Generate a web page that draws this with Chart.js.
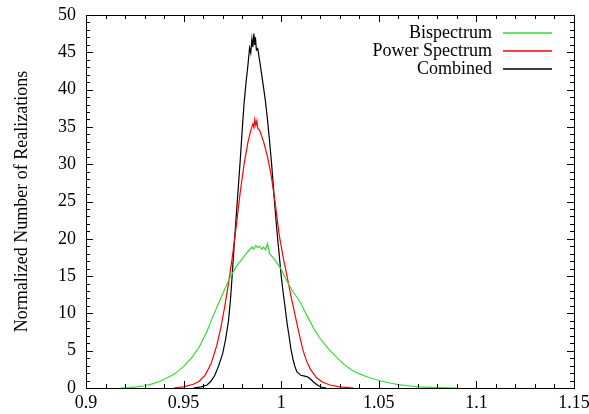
<!DOCTYPE html>
<html>
<head>
<meta charset="utf-8">
<script src="https://cdn.jsdelivr.net/npm/chart.js@4/dist/chart.umd.min.js"></script>
<style>
  html, body { margin: 0; padding: 0; background: #fff; }
  #wrap { width: 589px; height: 414px; }
</style>
</head>
<body>
<div id="wrap"><canvas id="grafico" width="589" height="414"></canvas></div>
<script>
  // Bispectrum (green)
  const bispecX = [0.918, 0.922, 0.926, 0.930, 0.934, 0.938, 0.942, 0.946, 0.950, 0.954, 0.958, 0.962, 0.965, 0.968, 0.971, 0.974, 0.977, 0.980, 0.983, 0.985, 0.986, 0.987, 0.988, 0.989, 0.990, 0.991, 0.992, 0.993, 0.994, 0.996, 0.998, 1.000, 1.002, 1.004, 1.006, 1.008, 1.010, 1.012, 1.014, 1.017, 1.020, 1.024, 1.028, 1.032, 1.036, 1.040, 1.045, 1.050, 1.055, 1.060, 1.065, 1.070, 1.080, 1.090];
  const bispecY = [0, 0.05, 0.15, 0.3, 0.55, 0.9, 1.4, 2.0, 2.9, 4.0, 5.5, 7.6, 9.6, 11.4, 13.2, 14.9, 16.3, 17.3, 18.3, 18.9, 18.6, 19.1, 18.8, 19.0, 18.6, 18.9, 18.5, 19.4, 18.0, 17.4, 16.7, 15.9, 14.8, 13.8, 12.9, 12.2, 11.4, 10.3, 9.3, 7.8, 6.6, 5.3, 4.2, 3.2, 2.4, 1.9, 1.4, 1.0, 0.7, 0.45, 0.3, 0.15, 0.05, 0];

  // Power Spectrum (red)
  const powerX = [0.945, 0.950, 0.955, 0.958, 0.961, 0.964, 0.967, 0.969, 0.971, 0.973, 0.975, 0.977, 0.979, 0.981, 0.983, 0.9845, 0.9855, 0.986, 0.9865, 0.987, 0.9875, 0.988, 0.989, 0.991, 0.993, 0.995, 0.997, 0.999, 1.001, 1.003, 1.005, 1.007, 1.009, 1.011, 1.013, 1.015, 1.018, 1.021, 1.025, 1.030, 1.037];
  const powerY = [0, 0.15, 0.5, 0.9, 1.7, 3.2, 5.7, 8.0, 10.8, 14.0, 17.6, 21.8, 26.2, 30.0, 33.0, 34.6, 35.4, 34.9, 36.0, 35.2, 35.8, 34.8, 34.5, 33.0, 31.0, 28.3, 24.6, 20.5, 17.5, 15.0, 12.3, 9.9, 7.5, 5.2, 3.6, 2.5, 1.4, 0.8, 0.4, 0.15, 0];

  // Combined (black)
  const combX = [0.955, 0.959, 0.962, 0.964, 0.966, 0.968, 0.970, 0.9715, 0.973, 0.974, 0.975, 0.976, 0.977, 0.978, 0.979, 0.980, 0.981, 0.982, 0.983, 0.9838, 0.9844, 0.985, 0.9855, 0.986, 0.9864, 0.9868, 0.9873, 0.988, 0.989, 0.990, 0.991, 0.992, 0.993, 0.994, 0.995, 0.996, 0.997, 0.998, 0.999, 1.000, 1.001, 1.002, 1.003, 1.004, 1.005, 1.006, 1.007, 1.008, 1.010, 1.012, 1.0135, 1.015, 1.017, 1.019, 1.021, 1.023];
  const combY = [0, 0.15, 0.4, 0.9, 1.7, 3.0, 4.6, 6.5, 9.0, 11.8, 15.5, 19.5, 23.2, 26.8, 30.5, 34.5, 38.2, 41.0, 43.4, 45.6, 44.9, 46.8, 45.7, 47.5, 46.0, 47.0, 45.3, 45.5, 43.8, 42.0, 40.2, 38.3, 35.9, 33.2, 30.3, 27.0, 23.6, 20.5, 17.8, 15.0, 12.8, 10.8, 8.7, 7.0, 5.2, 3.9, 2.9, 2.2, 1.7, 1.6, 1.5, 1.2, 0.7, 0.3, 0.1, 0];

  const xTicks = [0.9, 0.95, 1, 1.05, 1.1, 1.15];
  const yTicks = [0, 5, 10, 15, 20, 25, 30, 35, 40, 45, 50];
  const seriesNames = ['Bispectrum', 'Power Spectrum', 'Combined'];
  const seriesColors = ['#33dd33', '#ff0000', '#000000'];

  const FONT = '18px "Liberation Serif", "DejaVu Serif", serif';

  function pts(xs, ys) {
    return xs.map((x, i) => ({ x: x, y: ys[i] }));
  }

  // gnuplot-like frame, inward ticks, labels and legend
  const framePlugin = {
    id: 'frame',
    afterDraw(chart) {
      const c = chart.ctx;
      const a = chart.chartArea;
      const xs = chart.scales.x, ys = chart.scales.y;
      c.save();
      c.strokeStyle = '#000';
      c.lineWidth = 1;
      c.strokeRect(Math.round(a.left) + 0.5, Math.round(a.top) + 0.5,
        Math.round(a.right - a.left), Math.round(a.bottom - a.top));

      c.beginPath();
      // x ticks: minor every 0.01, major every 0.05
      for (let i = 0; i <= 25; i++) {
        const v = 0.9 + i * 0.01;
        const px = Math.round(xs.getPixelForValue(v)) + 0.5;
        const len = i % 5 === 0 ? 7 : 4;
        c.moveTo(px, a.bottom); c.lineTo(px, a.bottom - len);
        c.moveTo(px, a.top); c.lineTo(px, a.top + len);
      }
      // y ticks: minor every 1, major every 5
      for (let v = 0; v <= 50; v++) {
        const py = Math.round(ys.getPixelForValue(v)) + 0.5;
        const len = v % 5 === 0 ? 7 : 4;
        c.moveTo(a.left, py); c.lineTo(a.left + len, py);
        c.moveTo(a.right, py); c.lineTo(a.right - len, py);
      }
      c.stroke();

      c.fillStyle = '#000';
      c.font = FONT;
      c.textAlign = 'right';
      c.textBaseline = 'middle';
      yTicks.forEach(v => c.fillText(String(v), a.left - 10, ys.getPixelForValue(v)));
      c.textAlign = 'center';
      c.textBaseline = 'top';
      xTicks.forEach(v => c.fillText(String(v), xs.getPixelForValue(v), a.bottom + 6));

      c.save();
      c.translate(22, (a.top + a.bottom) / 2);
      c.rotate(-Math.PI / 2);
      c.textBaseline = 'middle';
      c.fillText('Normalized Number of Realizations', 0, 0);
      c.restore();

      // legend: text right aligned, line sample on the right
      c.textAlign = 'right';
      c.textBaseline = 'middle';
      seriesNames.forEach((name, i) => {
        const y = Math.round(a.top + 18 + i * 18);
        c.fillStyle = '#000';
        c.fillText(name, a.right - 82, y);
        c.lineWidth = 1.5;
        c.strokeStyle = seriesColors[i];
        c.beginPath();
        c.moveTo(a.right - 71, y);
        c.lineTo(a.right - 22, y);
        c.stroke();
      });
      c.restore();
    }
  };

  const ctx = document.getElementById('grafico').getContext('2d');

  const grafico = new Chart(ctx, {
    type: 'line',
    data: {
      datasets: [
        { label: seriesNames[0], data: pts(bispecX, bispecY), borderColor: seriesColors[0] },
        { label: seriesNames[1], data: pts(powerX, powerY), borderColor: seriesColors[1] },
        { label: seriesNames[2], data: pts(combX, combY), borderColor: seriesColors[2] }
      ]
    },
    options: {
      responsive: false,
      animation: false,
      parsing: false,
      layout: { padding: { left: 86, right: 15, top: 15, bottom: 26 } },
      elements: {
        point: { radius: 0 },
        line: { borderWidth: 1.2, tension: 0, fill: false }
      },
      plugins: {
        legend: { display: false },
        tooltip: { enabled: false }
      },
      scales: {
        x: { type: 'linear', min: 0.9, max: 1.15, display: false },
        y: { min: 0, max: 50, display: false }
      }
    },
    plugins: [framePlugin]
  });
</script>
</body>
</html>
